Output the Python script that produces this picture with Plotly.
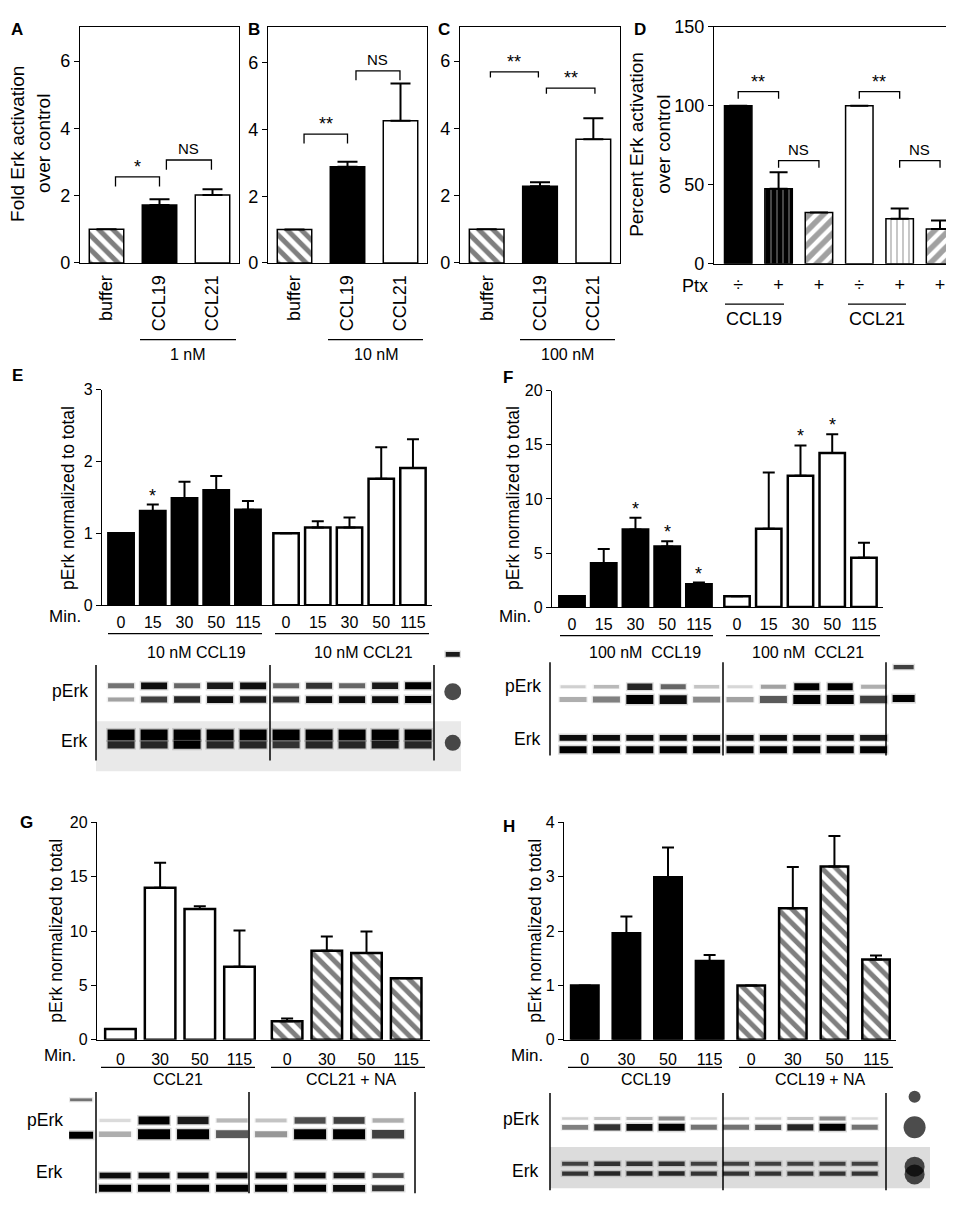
import plotly.graph_objects as go

W, H = 954, 1209
FONT = "Liberation Sans, Arial, sans-serif"

# ---------------- data ----------------
# A-C  fold Erk activation over control
conds = ["buffer", "CCL19", "CCL21"]
a_mean = [1.0, 1.72, 2.02]
a_err = [0, 0.17, 0.17]
b_mean = [1.0, 2.88, 4.26]
b_err = [0, 0.15, 1.12]
c_mean = [1.0, 2.28, 3.68]
c_err = [0, 0.12, 0.62]

# D  percent Erk activation, with / without Ptx
ptx = ["÷", "+", "+", "÷", "+", "+"]
d_mean = [100, 47.5, 32.5, 100, 28.5, 22]
d_err = [0, 10.5, 0, 0, 6.5, 5.5]

# significance brackets: label, left x, right x, height
a_sig = [("*", 0.17, 1.0, 2.56), ("NS", 1.13, 1.98, 3.06)]
b_sig = [("**", 0.18, 1.0, 3.86), ("NS", 1.16, 1.99, 5.76)]
c_sig = [("**", 0.07, 0.97, 5.68), ("**", 1.12, 2.03, 5.2)]
d_sig = [("**", 0, 1, 109), ("NS", 1, 2, 65.4), ("**", 3, 4, 109), ("NS", 4, 5, 65.4)]

# E / F  time course, 10 nM and 100 nM
min_ef = ["0", "15", "30", "50", "115"]
e_ccl19 = [1.0, 1.31, 1.49, 1.60, 1.33]
e_ccl19_err = [0, 0.09, 0.23, 0.20, 0.12]
e_ccl21 = [1.0, 1.08, 1.08, 1.76, 1.91]
e_ccl21_err = [0, 0.09, 0.14, 0.44, 0.40]
e_star19 = [0, 1, 0, 0, 0]
e_star21 = [0, 0, 0, 0, 0]

f_ccl19 = [1.0, 4.06, 7.18, 5.60, 2.12]
f_ccl19_err = [0, 1.30, 1.09, 0.49, 0.15]
f_ccl21 = [1.0, 7.25, 12.15, 14.24, 4.55]
f_ccl21_err = [0, 5.20, 2.79, 1.73, 1.39]
f_star19 = [0, 0, 1, 1, 1]
f_star21 = [0, 0, 1, 1, 0]

# G / H  with neuraminidase (NA)
min_gh = ["0", "30", "50", "115"]
g_ccl21 = [1.0, 14.0, 12.03, 6.73]
g_ccl21_err = [0, 2.30, 0.27, 3.33]
g_na = [1.7, 8.2, 8.0, 5.66]
g_na_err = [0.27, 1.30, 1.97, 0]

h_ccl19 = [1.0, 1.96, 2.99, 1.45]
h_ccl19_err = [0, 0.31, 0.55, 0.11]
h_na = [1.0, 2.42, 3.19, 1.48]
h_na_err = [0, 0.76, 0.56, 0.07]

# western blot band intensities (0 = none, 1 = saturated), per lane
e_perk_up = [0.55, 0.95, 0.6, 0.9, 0.95, 0.6, 0.8, 0.6, 0.9, 1.0]
e_perk_lo = [0.35, 0.75, 0.85, 0.95, 0.9, 0.8, 0.95, 0.95, 0.95, 1.0]
e_erk_up = [1.0, 1.0, 1.0, 1.0, 1.0, 1.0, 1.0, 1.0, 1.0, 1.0]
e_erk_lo = [0.85, 0.85, 1.0, 0.85, 0.85, 0.8, 0.85, 0.85, 0.9, 0.85]

f_perk_up = [0.15, 0.25, 0.85, 0.6, 0.2, 0.12, 0.35, 1.0, 1.0, 0.3]
f_perk_lo = [0.3, 0.5, 1.0, 0.95, 0.45, 0.35, 0.65, 1.0, 1.0, 0.75]
f_erk_up = [0.95, 0.95, 0.95, 0.95, 0.95, 0.95, 0.95, 0.95, 0.95, 0.9]
f_erk_lo = [1.0, 1.0, 1.0, 1.0, 1.0, 1.0, 1.0, 1.0, 1.0, 1.0]

g_perk_up = [0.1, 1.0, 0.9, 0.25, 0.2, 0.7, 0.75, 0.3]
g_perk_lo = [0.3, 1.0, 1.0, 0.65, 0.4, 1.0, 1.0, 0.75]
g_erk_up = [0.95, 0.95, 0.95, 0.95, 0.95, 0.95, 0.9, 0.7]
g_erk_lo = [1.0, 1.0, 1.0, 1.0, 1.0, 1.0, 0.95, 0.8]

h_perk_up = [0.15, 0.2, 0.25, 0.45, 0.1, 0.15, 0.15, 0.2, 0.45, 0.1]
h_perk_lo = [0.5, 0.8, 0.95, 1.0, 0.55, 0.55, 0.65, 0.85, 1.0, 0.55]
h_erk_up = [0.75, 0.8, 0.8, 0.8, 0.75, 0.75, 0.75, 0.75, 0.75, 0.75]
h_erk_lo = [0.8, 0.85, 0.85, 0.85, 0.8, 0.8, 0.8, 0.8, 0.8, 0.8]


# ---------------- helpers ----------------
def xdom(a, b):
    return [a / W, b / W]


def ydom(top, bot):
    return [1 - bot / H, 1 - top / H]


def px(x, y):
    return x / W, 1 - y / H


def axname(n):
    return ("x", "y") if n == 1 else (f"x{n}", f"y{n}")


traces = []
annotations = []
shapes = []
layout_axes = {}

BLOT_CS = [[0, "#f2f2f2"], [0.5, "#808080"], [1, "#000000"]]


def bar_axes(n, xd, yd, xr, yr, dtick, tickvals, ticktext, tfont, box,
             tickangle=0, xticklen=10, lw=1.3):
    xa, ya = axname(n)
    key = "" if n == 1 else str(n)
    layout_axes["xaxis" + key] = dict(
        domain=xdom(*xd), range=xr, anchor=ya, tickvals=tickvals, ticktext=ticktext,
        tickangle=tickangle, ticks="outside", ticklen=xticklen, tickcolor="rgba(0,0,0,0)",
        showline=True, linecolor="black", linewidth=lw, mirror=box,
        showgrid=False, zeroline=False, tickfont=dict(size=tfont, color="black"))
    layout_axes["yaxis" + key] = dict(
        domain=ydom(*yd), range=yr, anchor=xa, dtick=dtick, tick0=0,
        ticks="outside", ticklen=5, tickwidth=lw, tickcolor="black",
        showline=True, linecolor="black", linewidth=lw, mirror=box,
        showgrid=False, zeroline=False, tickfont=dict(size=tfont, color="black"))


def bars(n, x, y, err, color, width, lw, capw, pattern=None):
    xa, ya = axname(n)
    marker = dict(color=color, line=dict(color="black", width=lw))
    if pattern:
        marker["pattern"] = pattern
    traces.append(go.Bar(
        x=x, y=y, width=width, xaxis=xa, yaxis=ya, marker=marker,
        error_y=dict(type="data", array=err, arrayminus=[0] * len(err), symmetric=False,
                     color="black", thickness=2, width=capw),
        showlegend=False, hoverinfo="skip"))


def brackets(n, sig, drop):
    xa, ya = axname(n)
    xs, ys = [], []
    for lab, x0, x1, top in sig:
        xs += [x0, x0, x1, x1, None]
        ys += [top - drop, top, top, top - drop, None]
        annotations.append(dict(x=(x0 + x1) / 2, y=top, xref=xa, yref=ya, text=lab,
                                showarrow=False, yanchor="bottom",
                                yshift=1 if lab == "NS" else -2,
                                font=dict(size=15 if lab == "NS" else 18, color="black")))
    traces.append(go.Scatter(x=xs, y=ys, xaxis=xa, yaxis=ya, mode="lines",
                             line=dict(color="black", width=1.3),
                             showlegend=False, hoverinfo="skip"))


def stars(n, x, mean, err, flags):
    xa, ya = axname(n)
    for xi, m, e, f in zip(x, mean, err, flags):
        if f:
            annotations.append(dict(x=xi, y=m + e, xref=xa, yref=ya, text="*",
                                    showarrow=False, yanchor="bottom", yshift=-3,
                                    font=dict(size=18, color="black")))


def text(x, y, s, size, bold=False, angle=0, anchor="center", color="black"):
    xx, yy = px(x, y)
    annotations.append(dict(x=xx, y=yy, xref="paper", yref="paper",
                            text=f"<b>{s}</b>" if bold else s, showarrow=False,
                            xanchor=anchor, yanchor="middle", textangle=angle,
                            font=dict(size=size, color=color)))


def hline(x0, x1, y, w=1.2):
    a, b = px(x0, y)
    c, _ = px(x1, y)
    shapes.append(dict(type="line", xref="paper", yref="paper", x0=a, x1=c, y0=b, y1=b,
                       line=dict(color="black", width=w)))


def vline(x, y0, y1, w=1.5):
    a, b = px(x, y0)
    _, c = px(x, y1)
    shapes.append(dict(type="line", xref="paper", yref="paper", x0=a, x1=a, y0=b, y1=c,
                       line=dict(color="black", width=w)))


def rect(x0, y0, x1, y1, color):
    a, b = px(x0, y0)
    c, d = px(x1, y1)
    shapes.append(dict(type="rect", xref="paper", yref="paper", x0=a, x1=c, y0=d, y1=b,
                       fillcolor=color, line=dict(width=0), layer="below"))


def blot_axes(n, xd, yd, xr, yr):
    xa, ya = axname(n)
    layout_axes[f"xaxis{n}"] = dict(domain=xdom(*xd), range=xr, anchor=ya, visible=False)
    layout_axes[f"yaxis{n}"] = dict(domain=ydom(*yd), range=yr, anchor=xa, visible=False)


def band_row(n, lanes, y, inten, length, thick):
    # line-ew symbol is 1.4 x marker size long
    xa, ya = axname(n)
    yy = [y] * len(lanes)
    size = length / 1.4
    # faint smear around the band
    traces.append(go.Scatter(
        x=lanes, y=yy, xaxis=xa, yaxis=ya, mode="markers", opacity=0.18,
        marker=dict(symbol="line-ew", size=size + 2,
                    line=dict(width=[thick * v + 3 for v in inten], color=inten,
                              colorscale=BLOT_CS, cmin=0, cmax=1.2)),
        showlegend=False, hoverinfo="skip"))
    # core
    traces.append(go.Scatter(
        x=lanes, y=yy, xaxis=xa, yaxis=ya, mode="markers",
        marker=dict(symbol="line-ew", size=size,
                    line=dict(width=[thick * (0.35 + 0.65 * v) for v in inten], color=inten,
                              colorscale=BLOT_CS, cmin=0, cmax=1)),
        showlegend=False, hoverinfo="skip"))


def blobs(n, x, ys, sizes):
    xa, ya = axname(n)
    traces.append(go.Scatter(
        x=[x] * len(ys), y=ys, xaxis=xa, yaxis=ya, mode="markers",
        marker=dict(symbol="circle", size=sizes, color="black", line=dict(width=0)),
        showlegend=False, hoverinfo="skip"))


HATCH_B = dict(shape="\\", fgcolor="black", bgcolor="white", size=10, solidity=0.5)

# ---------------- panels A-C ----------------
for n, mean, err, sig, drop, xd, yr in [
        (1, a_mean, a_err, a_sig, 0.29, (72, 231), [0, 7.02]),
        (2, b_mean, b_err, b_sig, 0.28, (260, 419), [0, 7.08]),
        (3, c_mean, c_err, c_sig, 0.17, (452, 612), [0, 7.02])]:
    bar_axes(n, xd, (9, 249), [-0.5, 2.5], yr, 2, [0, 1, 2], conds, 18, True,
             tickangle=-90, xticklen=4)
    bars(n, [0], mean[:1], err[:1], "white", 0.65, 1.5, 10, HATCH_B)
    bars(n, [1], mean[1:2], err[1:2], "black", 0.65, 1.5, 10)
    bars(n, [2], mean[2:], err[2:], "white", 0.65, 1.5, 10)
    brackets(n, sig, drop)

# ---------------- panel D ----------------
bar_axes(4, (706, 951), (9, 250), [-0.6, 5.47], [0, 150], 50, list(range(6)), ptx, 18, True,
         xticklen=4)
d_x = list(range(6))
bars(4, d_x, d_mean, d_err,
     ["black", "black", "white", "white", "white", "white"], 0.68, 1.5, 9,
     dict(shape=["", "|", "/", "", "|", "/"],
          fgcolor=["black", "white", "black", "black", "black", "black"],
          bgcolor=["black", "black", "white", "white", "white", "white"],
          size=[6, 6, 10, 6, 6, 10], solidity=[0.2, 0.18, 0.55, 0.2, 0.2, 0.55]))
brackets(4, d_sig, 4.5)

# ---------------- panels E, F ----------------
pos_ef = list(range(5)) + [i + 5.2 for i in range(5)]
bar_axes(5, (94, 424), (378, 597), [-0.6, 9.8], [0, 3], 1, pos_ef, min_ef * 2, 16, False,
         xticklen=3)
bars(5, pos_ef[:5], e_ccl19, e_ccl19_err, "black", 0.8, 2.5, 6)
bars(5, pos_ef[5:], e_ccl21, e_ccl21_err, "white", 0.8, 2.5, 6)
stars(5, pos_ef[:5], e_ccl19, e_ccl19_err, e_star19)
stars(5, pos_ef[5:], e_ccl21, e_ccl21_err, e_star21)

bar_axes(6, (544, 875), (379, 599), [-0.63, 9.8], [0, 20], 5, pos_ef, min_ef * 2, 16, False,
         xticklen=3)
bars(6, pos_ef[:5], f_ccl19, f_ccl19_err, "black", 0.8, 2.5, 6)
bars(6, pos_ef[5:], f_ccl21, f_ccl21_err, "white", 0.8, 2.5, 6)
stars(6, pos_ef[:5], f_ccl19, f_ccl19_err, f_star19)
stars(6, pos_ef[5:], f_ccl21, f_ccl21_err, f_star21)

# ---------------- panels G, H ----------------
pos_g = list(range(4)) + [i + 4.2 for i in range(4)]
bar_axes(7, (89, 422), (818, 1039), [-0.59, 7.8], [0, 20], 5, pos_g, min_gh * 2, 16, False,
         xticklen=5)
bars(7, pos_g[:4], g_ccl21, g_ccl21_err, "white", 0.77, 2.5, 6)
bars(7, pos_g[4:], g_na, g_na_err, "white", 0.77, 2.5, 6, HATCH_B)

pos_h = list(range(8))
bar_axes(8, (556, 888), (818, 1039), [-0.5, 7.48], [0, 4], 1, pos_h, min_gh * 2, 16, False,
         xticklen=5)
bars(8, pos_h[:4], h_ccl19, h_ccl19_err, "black", 0.66, 2.5, 6)
bars(8, pos_h[4:], h_na, h_na_err, "white", 0.66, 2.5, 6, HATCH_B)

# ---------------- western blots ----------------
# E
rect(88, 715, 453, 766, "#e9e9e9")
blot_axes(9, (88, 453), (640, 768), [-0.76, 10.3], [128, 0])
lanes10 = list(range(10))
band_row(9, lanes10, 39, e_perk_up, 26, 7)
band_row(9, lanes10, 53, e_perk_lo, 26, 7)
band_row(9, lanes10, 89, e_erk_up, 27, 11)
band_row(9, lanes10, 99, e_erk_lo, 27, 8)
band_row(9, [10.05], 7, [0.9], 14, 5)
blobs(9, 10.05, [45, 97], [17, 16])
for xv in [88, 262, 426]:
    vline(xv, 658, 755)

# F
blot_axes(10, (542, 908), (650, 768), [-0.69, 10.27], [118, 0])
band_row(10, lanes10, 30, f_perk_up, 25, 7)
band_row(10, lanes10, 43, f_perk_lo, 27, 9)
band_row(10, lanes10, 82, f_erk_up, 27, 6)
band_row(10, lanes10, 94, f_erk_lo, 27, 7)
band_row(10, [9.9], 10, [0.75], 20, 5)
band_row(10, [9.9], 42, [1.0], 22, 7)
for xv in [542, 715, 878]:
    vline(xv, 655, 750)

# G
blot_axes(11, (61, 407), (1090, 1205), [-1.18, 7.69], [115, 0])
lanes8 = list(range(8))
band_row(11, lanes8, 31, g_perk_up, 31, 8)
band_row(11, lanes8, 45, g_perk_lo, 32, 10)
band_row(11, lanes8, 87, g_erk_up, 31, 6)
band_row(11, lanes8, 100, g_erk_lo, 32, 7)
band_row(11, [-0.87], 10, [0.55], 22, 4)
band_row(11, [-0.87], 46, [1.0], 24, 7)
for xv in [88, 241, 407]:
    vline(xv, 1092, 1195)

# H
rect(542, 1148, 922, 1190, "#dcdcdc")
blot_axes(12, (542, 923), (1090, 1195), [-0.78, 11.06], [105, 0])
band_row(12, lanes10, 29, h_perk_up, 26, 6)
band_row(12, lanes10, 38, h_perk_lo, 26, 7)
band_row(12, lanes10, 75, h_erk_up, 26, 5)
band_row(12, lanes10, 85, h_erk_lo, 26, 5)
blobs(12, 10.55, [7, 38, 78, 86], [12, 22, 20, 20])
for xv in [542, 715, 878]:
    vline(xv, 1093, 1192)

# ---------------- labels ----------------
for s, x, y in [("A", 9, 12), ("B", 246, 12), ("C", 436, 12), ("D", 632, 12),
                ("E", 9, 364), ("F", 500, 366), ("G", 18, 818), ("H", 501, 822)]:
    text(x, y, s, 17, bold=True)

text(10, 128, "Fold Erk activation", 19, angle=-90)
text(36, 128, "over control", 19, angle=-90)
text(629, 129, "Percent Erk activation", 19, angle=-90)
text(656, 129, "over control", 19, angle=-90)
text(60, 488, "pErk normalized to total", 17.5, angle=-90)
text(505, 488, "pErk normalized to total", 17.5, angle=-90)
text(48, 928, "pErk normalized to total", 17.5, angle=-90)
text(527, 928, "pErk normalized to total", 17.5, angle=-90)

# concentration labels under A-C
for x0, x1, lab in [(132, 228, "1 nM"), (320, 415, "10 nM"), (512, 607, "100 nM")]:
    hline(x0, x1, 327)
    text((x0 + x1) / 2, 342, lab, 16)

# D
text(687, 273, "Ptx", 18)
hline(717, 776, 291)
hline(840, 898, 291)
text(746, 306, "CCL19", 18)
text(869, 306, "CCL21", 18)

# E-H group labels
text(75, 609, "Min.", 17, anchor="right")
text(525, 609, "Min.", 17, anchor="right")
text(70, 1055, "Min.", 17, anchor="right")
text(537, 1055, "Min.", 17, anchor="right")

hline(100, 254, 626)
hline(267, 421, 626)
text(188, 645, "10 nM CCL19", 16)
text(355, 645, "10 nM CCL21", 16)

hline(552, 705, 628)
hline(718, 872, 628)
text(637, 645, "100 nM  CCL19", 16)
text(800, 645, "100 nM  CCL21", 16)

hline(93, 247, 1067)
hline(263, 417, 1067)
text(170, 1079, "CCL21", 16)
text(343, 1079, "CCL21 + NA", 16)

hline(560, 714, 1067)
hline(731, 885, 1067)
text(638, 1079, "CCL19", 16)
text(812, 1079, "CCL19 + NA", 16)

# blot row labels
for x, y1, y2 in [(82, 684, 735), (535, 679, 733), (57, 1121, 1173), (533, 1120, 1172)]:
    text(x, y1, "pErk", 17.5, anchor="right")
    text(x, y2, "Erk", 17.5, anchor="right")

fig = go.Figure(data=traces)
fig.update_layout(
    width=W, height=H, margin=dict(l=0, r=0, t=0, b=0),
    paper_bgcolor="white", plot_bgcolor="rgba(0,0,0,0)",
    font=dict(family=FONT, color="black"),
    barmode="overlay", showlegend=False,
    annotations=annotations, shapes=shapes, **layout_axes)

fig.write_html("out.html")
